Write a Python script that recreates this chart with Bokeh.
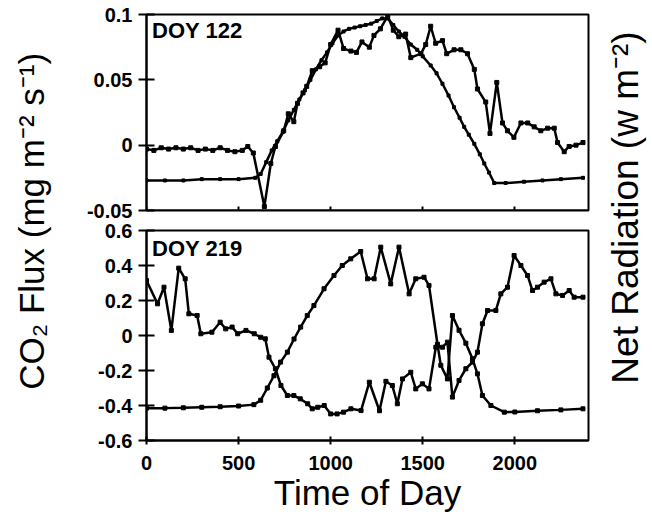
from bokeh.plotting import figure
from bokeh.layouts import row, column
from bokeh.models import Label, FixedTicker, Range1d
from bokeh.embed import file_html
from bokeh.resources import INLINE

FONT = "Liberation Sans"

# ---------------- data ----------------
# DOY 122 (top panel)
t122_flux = [0, 40, 80, 120, 160, 200, 240, 280, 320, 360, 400, 440, 480, 520, 550, 580,
             640, 675, 700, 745, 770, 800, 820, 850, 870, 900, 940, 970, 1000, 1040, 1070,
             1110, 1140, 1170, 1210, 1235, 1270, 1310, 1340, 1370, 1407, 1435, 1490, 1516,
             1543, 1570, 1607, 1630, 1670, 1707, 1743, 1780, 1797, 1842, 1865, 1902, 1933,
             1960, 1995, 2033, 2070, 2105, 2141, 2178, 2214, 2232, 2268, 2295, 2332, 2370]
co2_122 = [-0.003, -0.004, -0.002, -0.003, -0.002, -0.003, -0.002, -0.004, -0.003, -0.004,
           -0.002, -0.004, -0.005, -0.004, -0.001, -0.006, -0.047, -0.014, -0.001, 0.011,
           0.024, 0.018, 0.032, 0.040, 0.045, 0.057, 0.060, 0.063, 0.077, 0.088, 0.074,
           0.072, 0.071, 0.079, 0.075, 0.084, 0.089, 0.099, 0.088, 0.083, 0.085, 0.067,
           0.070, 0.077, 0.091, 0.078, 0.080, 0.070, 0.073, 0.073, 0.070, 0.058, 0.043,
           0.033, 0.009, 0.048, 0.017, 0.011, 0.006, 0.017, 0.017, 0.014, 0.011, 0.013,
           0.013, 0.002, -0.005, -0.001, 0.000, 0.002]

t122_rad = [0, 100, 200, 300, 400, 500, 590, 620, 650, 680, 710, 740, 770, 800, 830, 860,
            890, 920, 950, 980, 1010, 1040, 1070, 1100, 1130, 1160, 1190, 1220, 1250, 1280,
            1310, 1340, 1370, 1400, 1435, 1470, 1500, 1543, 1575, 1607, 1640, 1670, 1700,
            1725, 1750, 1780, 1810, 1834, 1860, 1888, 1950, 2050, 2150, 2250, 2370]
rad_122 = [-0.027, -0.027, -0.027, -0.026, -0.026, -0.026, -0.025, -0.022, -0.013, -0.004,
           0.003, 0.010, 0.019, 0.027, 0.035, 0.042, 0.050, 0.058, 0.065, 0.071, 0.078,
           0.084, 0.087, 0.089, 0.090, 0.091, 0.092, 0.093, 0.095, 0.097, 0.097, 0.092,
           0.087, 0.083, 0.077, 0.073, 0.068, 0.061, 0.055, 0.047, 0.038, 0.029, 0.021,
           0.014, 0.008, 0.001, -0.007, -0.014, -0.021, -0.029, -0.029, -0.028, -0.027,
           -0.026, -0.025]

# DOY 219 (bottom panel)
t219_flux = [0, 60, 95, 135, 175, 210, 230, 275, 295, 355, 400, 430, 465, 495, 540, 585,
             620, 645, 665, 700, 730, 765, 800, 835, 875, 900, 930, 965, 1000, 1035, 1070,
             1110, 1165, 1210, 1265, 1300, 1335, 1362, 1390, 1435, 1462, 1498, 1534, 1571,
             1607, 1634, 1661, 1697, 1734, 1770, 1797, 1824, 1852, 1897, 1924, 1960, 1996,
             2033, 2069, 2096, 2123, 2159, 2196, 2223, 2259, 2295, 2322, 2370]
co2_219 = [0.314, 0.181, 0.276, 0.029, 0.385, 0.324, 0.124, 0.114, 0.010, 0.019, 0.076,
           0.038, 0.048, 0.010, 0.029, 0.010, -0.010, -0.019, -0.124, -0.190, -0.286,
           -0.343, -0.343, -0.362, -0.390, -0.419, -0.410, -0.400, -0.448, -0.448, -0.438,
           -0.419, -0.429, -0.267, -0.430, -0.262, -0.286, -0.390, -0.248, -0.210, -0.305,
           -0.276, -0.305, -0.067, -0.067, -0.038, -0.352, -0.257, -0.190, -0.152, -0.095,
           0.067, 0.143, 0.143, 0.238, 0.276, 0.457, 0.400, 0.343, 0.257, 0.276, 0.305,
           0.324, 0.238, 0.229, 0.257, 0.219, 0.219]

t219_rad = [0, 100, 200, 300, 400, 500, 583, 620, 656, 692, 728, 765, 801, 837, 873, 909,
            964, 1018, 1063, 1109, 1163, 1200, 1236, 1272, 1326, 1371, 1426, 1462, 1507,
            1534, 1580, 1598, 1634, 1661, 1697, 1734, 1770, 1797, 1824, 1870, 1943, 2000,
            2123, 2250, 2370]
rad_219 = [-0.415, -0.415, -0.413, -0.410, -0.407, -0.403, -0.395, -0.370, -0.300, -0.230,
           -0.152, -0.095, -0.020, 0.048, 0.114, 0.171, 0.267, 0.343, 0.400, 0.438, 0.480,
           0.324, 0.324, 0.505, 0.295, 0.505, 0.238, 0.324, 0.333, 0.286, -0.050, -0.170,
           -0.248, 0.114, 0.030, -0.044, -0.133, -0.219, -0.343, -0.400, -0.438, -0.437,
           -0.430, -0.425, -0.419]

x_ticks = [0, 500, 1000, 1500, 2000]
x_tick_labels = ["0", "500", "1000", "1500", "2000"]
y_ticks_122 = [-0.05, 0, 0.05, 0.1]
y_labels_122 = ["-0.05", "0", "0.05", "0.1"]
y_ticks_219 = [-0.6, -0.4, -0.2, 0, 0.2, 0.4, 0.6]
y_labels_219 = ["-0.6", "-0.4", "-0.2", "0", "0.2", "0.4", "0.6"]

# ---------------- panels ----------------
def style_panel(p, yt, yl, show_x_labels):
    p.xgrid.visible = False
    p.ygrid.visible = False
    p.outline_line_color = "black"
    p.outline_line_width = 2
    p.background_fill_color = "white"
    p.border_fill_color = "white"
    for ax in (p.xaxis[0], p.yaxis[0]):
        ax.axis_line_width = 2
        ax.axis_line_color = "black"
        ax.major_tick_line_width = 2
        ax.major_tick_line_color = "black"
        ax.minor_tick_line_color = None
        ax.major_label_text_font = FONT
        ax.major_label_text_font_style = "bold"
        ax.major_label_text_font_size = "20px"
        ax.major_label_text_color = "black"
    p.yaxis[0].ticker = FixedTicker(ticks=yt)
    p.yaxis[0].major_label_overrides = {t: l for t, l in zip(yt, yl)}
    p.yaxis[0].major_tick_out = 8
    p.yaxis[0].major_tick_in = 8
    p.yaxis[0].major_label_standoff = 6
    p.xaxis[0].ticker = FixedTicker(ticks=x_ticks)
    p.xaxis[0].major_tick_out = 4
    p.xaxis[0].major_tick_in = 4
    if show_x_labels:
        p.xaxis[0].major_label_overrides = {t: l for t, l in zip(x_ticks, x_tick_labels)}
    else:
        # tick marks only, sitting on the frame's bottom edge
        p.xaxis[0].major_label_overrides = {t: "" for t in x_ticks}
        p.xaxis[0].major_label_standoff = 0
        p.xaxis[0].fixed_location = p.y_range.start


def draw(p, x, y, size):
    p.line(x, y, line_width=2.5, line_color="black")
    p.scatter(x, y, marker="square", size=size, fill_color="black", line_color="black")


top = figure(width=538, height=220, x_range=Range1d(0, 2400), y_range=Range1d(-0.05, 0.1),
             output_backend="svg", toolbar_location=None,
             min_border_left=88, min_border_right=8, min_border_top=14, min_border_bottom=10)
style_panel(top, y_ticks_122, y_labels_122, False)
draw(top, t122_rad, rad_122, 3)
draw(top, t122_flux, co2_122, 4)
top.add_layout(Label(x=30, y=0.097, text="DOY 122", text_font=FONT, text_font_style="bold",
                     text_font_size="22px", text_baseline="top", text_align="left",
                     text_color="black"))

bot = figure(width=538, height=297, x_range=Range1d(0, 2400), y_range=Range1d(-0.6, 0.6),
             output_backend="svg", toolbar_location=None,
             min_border_left=88, min_border_right=8, min_border_top=10, min_border_bottom=77)
style_panel(bot, y_ticks_219, y_labels_219, True)
bot.xaxis[0].major_label_standoff = 11
bot.xaxis[0].axis_label = "Time of Day"
bot.xaxis[0].axis_label_text_font = FONT
bot.xaxis[0].axis_label_text_font_style = "normal"
bot.xaxis[0].axis_label_text_font_size = "35px"
bot.xaxis[0].axis_label_text_color = "black"
bot.xaxis[0].axis_label_standoff = 0
draw(bot, t219_rad, rad_219, 4)
draw(bot, t219_flux, co2_219, 4)
bot.add_layout(Label(x=30, y=0.566, text="DOY 219", text_font=FONT, text_font_style="bold",
                     text_font_size="22px", text_baseline="top", text_align="left",
                     text_color="black"))

# ---------------- side titles ----------------
def title_fig(w, h, tx, ty, text, size):
    f = figure(width=w, height=h, x_range=Range1d(0, w), y_range=Range1d(0, h),
               x_axis_location=None, y_axis_location=None, output_backend="svg",
               toolbar_location=None, min_border=0)
    f.xgrid.visible = False
    f.ygrid.visible = False
    f.outline_line_color = None
    f.add_layout(Label(x=tx, y=ty, text=text, angle=90, angle_units="deg",
                       text_font=FONT, text_font_size=size, text_align="center",
                       text_baseline="middle", text_color="black"))
    return f

H = 220 + 297
left = title_fig(58, H, 31, H - 216, "CO\u2082 Flux (mg  m\u207b\u00b2 s\u207b\u00b9)", "35px")
right = title_fig(56, H, 29, H - 207, "Net Radiation (w m\u207b\u00b2)", "37px")

layout = row(left, column(top, bot), right)

open("out.html", "w").write(file_html(layout, INLINE))
